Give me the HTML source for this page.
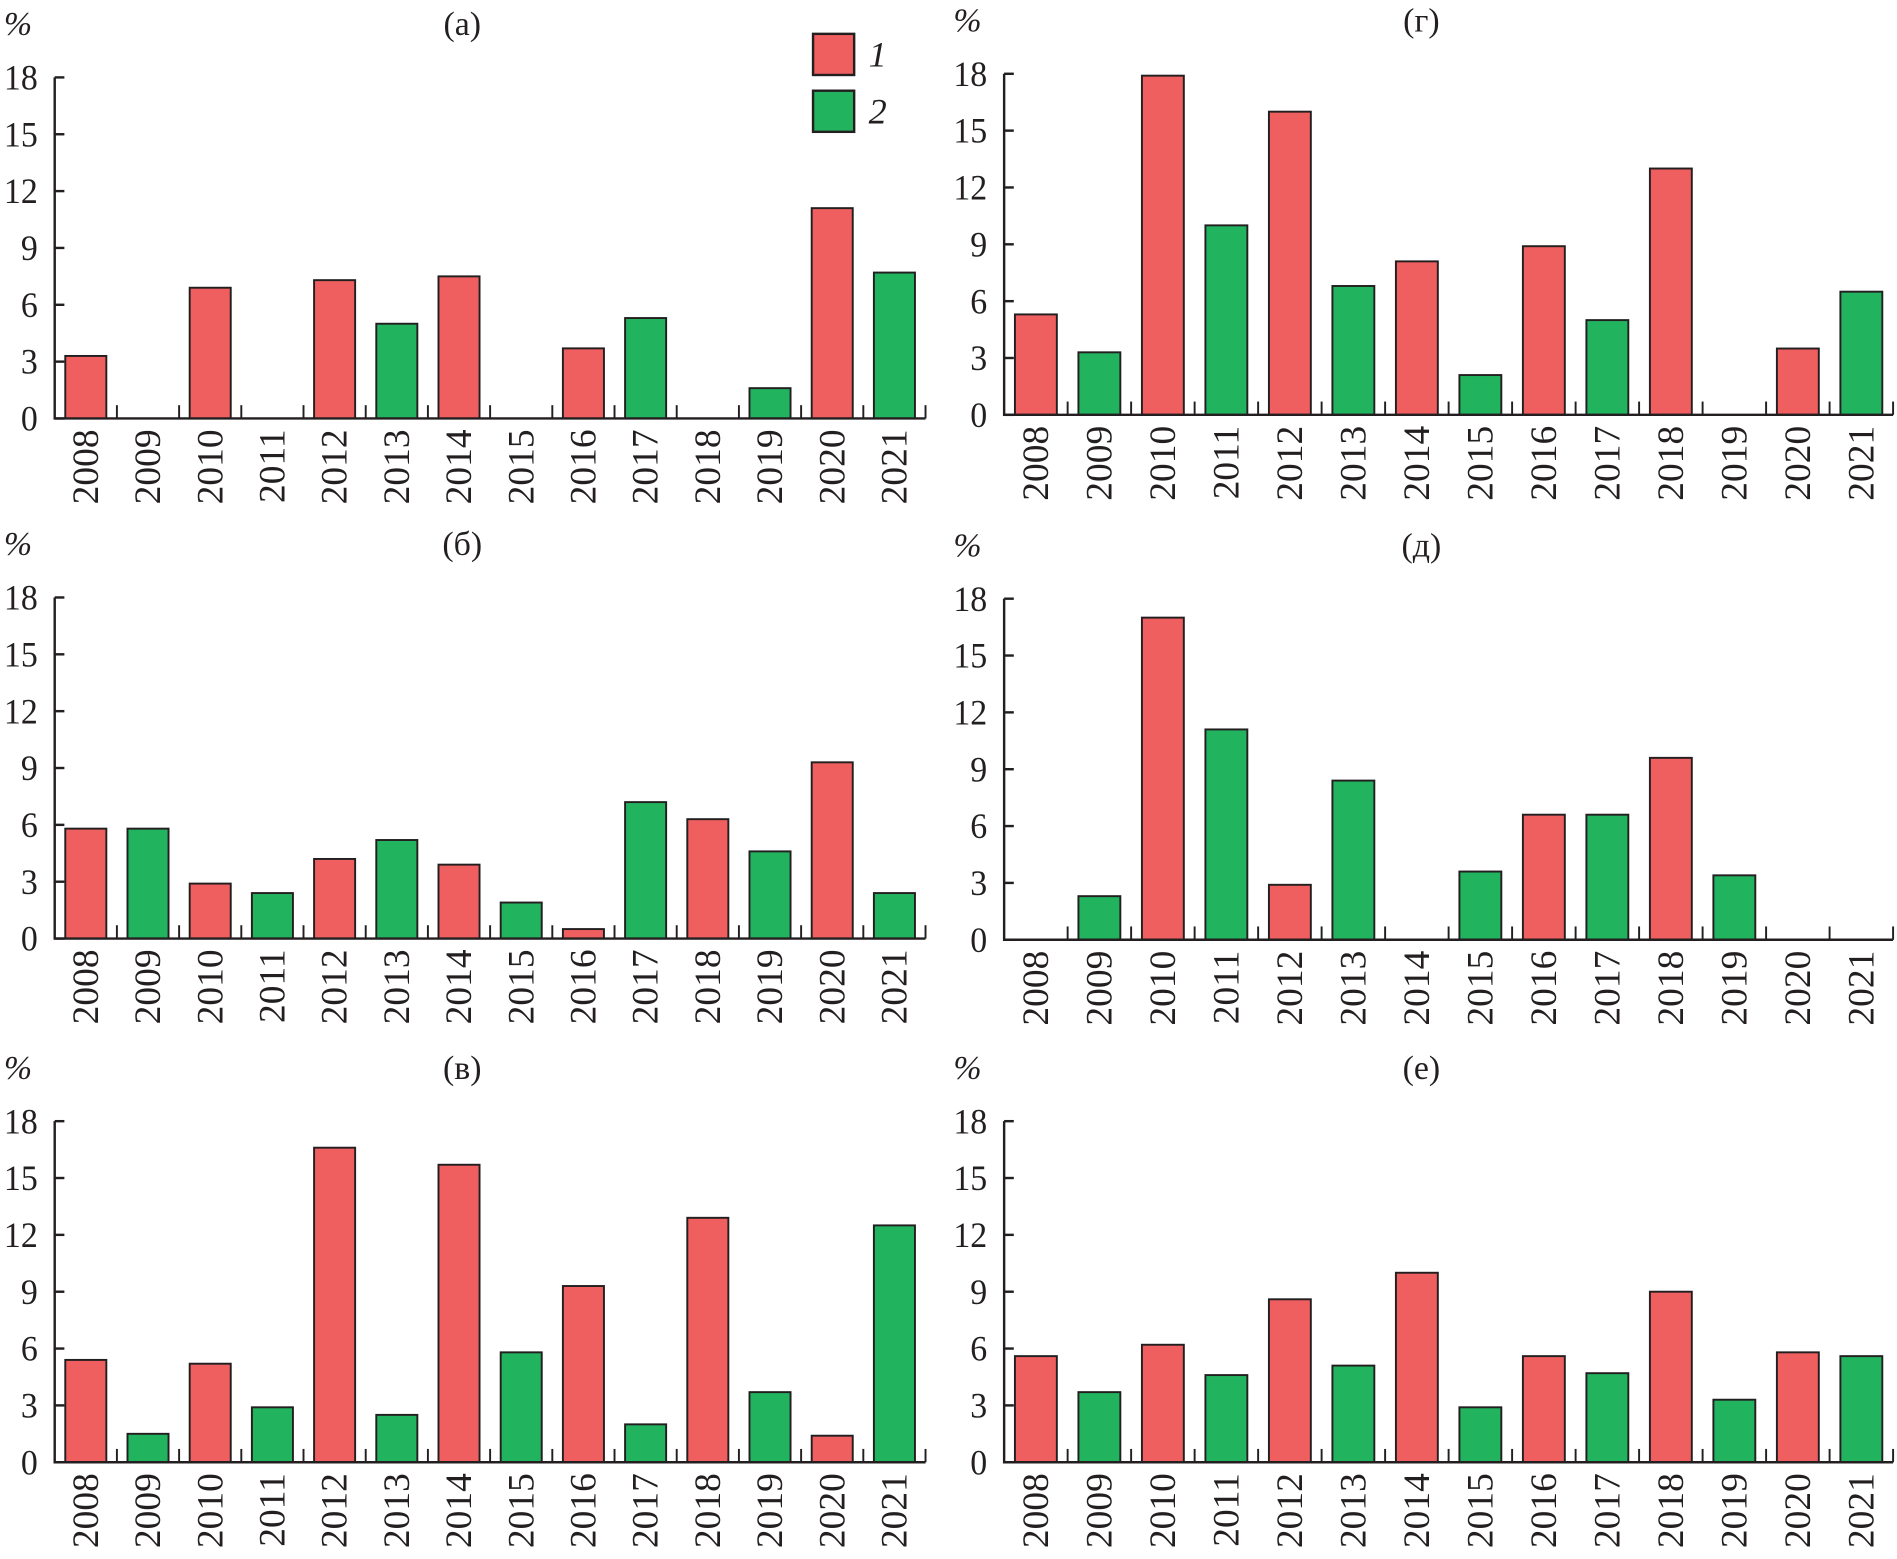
<!DOCTYPE html>
<html><head><meta charset="utf-8"><style>
html,body{margin:0;padding:0;background:#fff}
svg{display:block}
text{font-family:"Liberation Serif",serif;fill:#231f20}
</style></head><body>
<svg id="chart" xmlns="http://www.w3.org/2000/svg" width="1897" height="1559" viewBox="0 0 1568 1289"></svg>
<script>
const years = ["2008","2009","2010","2011","2012","2013","2014","2015","2016","2017","2018","2019","2020","2021"];
const yTicks = [0,3,6,9,12,15,18];
const valuesA = [3.3,0,6.9,0,7.3,5.0,7.5,0,3.7,5.3,0,1.6,11.1,7.7];
const valuesB = [5.8,5.8,2.9,2.4,4.2,5.2,3.9,1.9,0.5,7.2,6.3,4.6,9.3,2.4];
const valuesV = [5.4,1.5,5.2,2.9,16.6,2.5,15.7,5.8,9.3,2.0,12.9,3.7,1.4,12.5];
const valuesG = [5.3,3.3,17.9,10.0,16.0,6.8,8.1,2.1,8.9,5.0,13.0,0,3.5,6.5];
const valuesD = [0,2.3,17.0,11.1,2.9,8.4,0,3.6,6.6,6.6,9.6,3.4,0,0];
const valuesE = [5.6,3.7,6.2,4.6,8.6,5.1,10.0,2.9,5.6,4.7,9.0,3.3,5.8,5.6];
const panelTitles = ["(а)","(б)","(в)","(г)","(д)","(е)"];

const NS="http://www.w3.org/2000/svg";
const svg=document.getElementById('chart');
function mk(tag,attrs,parent){const e=document.createElementNS(NS,tag);for(const k in attrs)e.setAttribute(k,attrs[k]);(parent||svg).appendChild(e);return e;}
const RED="#ef5f60", GREEN="#22b35e";
const panels=[
 {x0:45,w:720,zero:346,vals:valuesA,title:panelTitles[0],name:"a",tx:382},
 {x0:45,w:720,zero:776,vals:valuesB,title:panelTitles[1],name:"b",tx:382},
 {x0:45,w:720,zero:1209,vals:valuesV,title:panelTitles[2],name:"v",tx:382},
 {x0:830,w:735,zero:343,vals:valuesG,title:panelTitles[3],name:"g",tx:1175},
 {x0:830,w:735,zero:777,vals:valuesD,title:panelTitles[4],name:"d",tx:1175},
 {x0:830,w:735,zero:1209,vals:valuesE,title:panelTitles[5],name:"e",tx:1175}
];
panels.forEach(p=>{
  const g=mk('g',{});
  
  
  const H=282;
  const y=v=>p.zero-v/18*H;
  const slot=p.w/years.length;
  const x=i=>p.x0+i*slot;
  // percent and title
  const pc=mk('text',{x:p.x0-45+3,y:p.zero-H-35,'font-size':28,'font-style':'italic'},g);pc.textContent='%';
  
  
  const tt=mk('text',{x:p.tx,y:p.zero-H-35,'font-size':28,'text-anchor':'middle'},g);tt.textContent=p.title;
  
  
  // bars
  p.vals.forEach((v,i)=>{
    if(v<=0)return;
    const bw=slot*0.66;
    const r=mk('rect',{x:x(i)+(slot-bw)/2,y:y(v),width:bw,height:p.zero-y(v),fill:i%2===0?RED:GREEN,stroke:'#231f20','stroke-width':1.6},g);
    
    
  });
  // axes
  const ax=mk('path',{d:`M${p.x0},${y(18)}V${p.zero}H${p.x0+p.w}`,fill:'none',stroke:'#231f20','stroke-width':2},g);
  
  
  yTicks.forEach(t=>{
    mk('line',{x1:p.x0,x2:p.x0+8,y1:y(t),y2:y(t),stroke:'#231f20','stroke-width':2},g);
    const lb=mk('text',{x:p.x0-14,y:y(t)+10,'font-size':30,'text-anchor':'end',textLength:t>=10?28:14,lengthAdjust:'spacingAndGlyphs'},g);lb.textContent=t;
    
    
  });
  for(let i=1;i<=years.length;i++){
    mk('line',{x1:x(i),x2:x(i),y1:p.zero,y2:p.zero-11,stroke:'#231f20','stroke-width':1.6},g);
  }
  years.forEach((yr,i)=>{
    const cx=x(i)+slot/2+10;
    const t=mk('text',{x:0,y:0,'font-size':31,'text-anchor':'end',transform:`translate(${cx},${p.zero+9}) rotate(-90)`},g);
    t.textContent=yr;
    
    
  });
});
// legend
const lg=mk('g',{});


[[RED,'1',28],[GREEN,'2',75]].forEach(([c,l,yy])=>{
  const r=mk('rect',{x:672,y:yy,width:34,height:34,fill:c,stroke:'#231f20','stroke-width':2},lg);
  
  
  const t=mk('text',{x:718,y:yy+27,'font-size':30,'font-style':'italic'},lg);t.textContent=l;
  
  
});
</script>
</body></html>
